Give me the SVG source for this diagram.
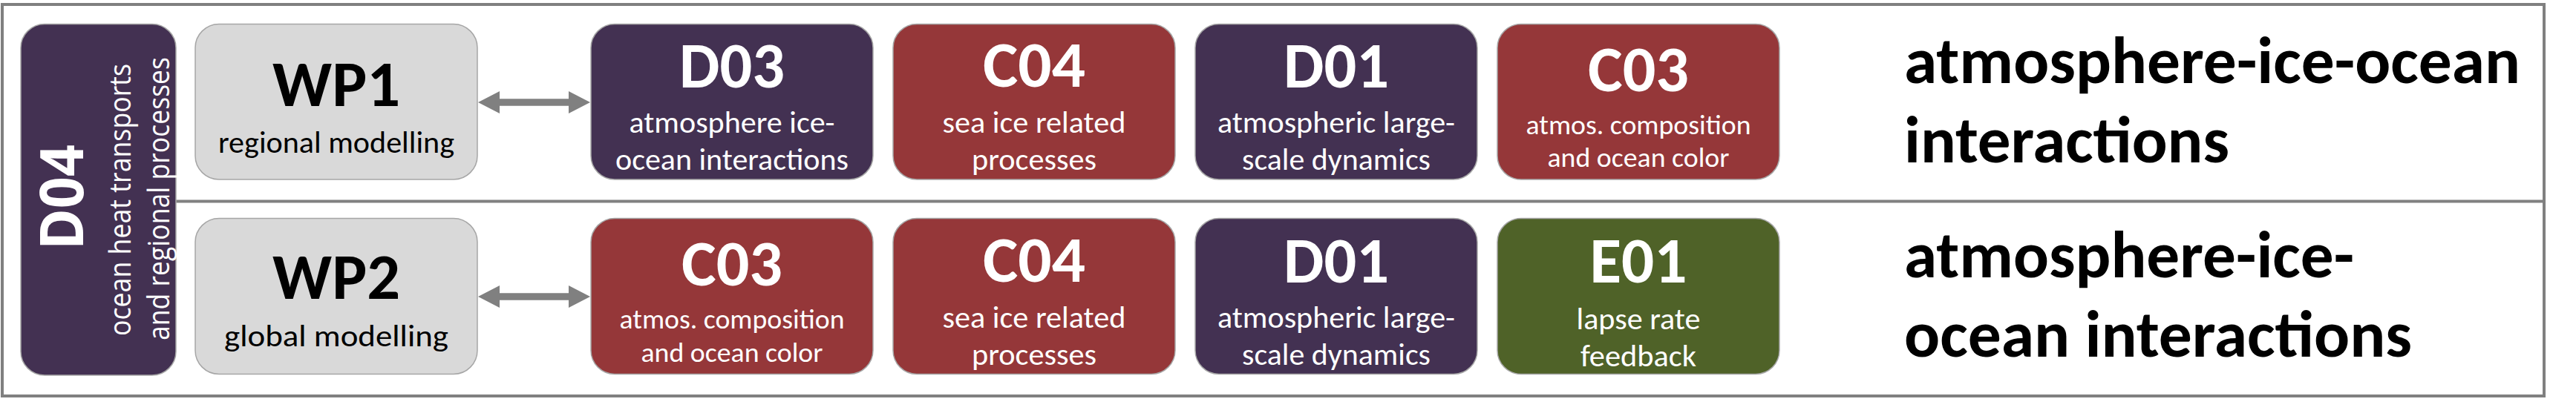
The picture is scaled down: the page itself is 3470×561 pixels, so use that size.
<svg xmlns="http://www.w3.org/2000/svg" width="3470" height="561" viewBox="0 0 3470 561">
<defs>
<style>
.frame{fill:none;stroke:#808080;stroke-width:4}
.sep{stroke:#808080;stroke-width:4}
.box{stroke:#a6a6a6;stroke-width:1.5}
.pur{fill:#433152}
.red{fill:#953739}
.grn{fill:#4f6228}
.gry{fill:#d9d9d9}
.arr{fill:#808080}
text{font-family:Carlito,Calibri,"Open Sans","Liberation Sans",sans-serif;text-anchor:middle}
.t{font-size:88px;font-weight:bold;fill:#ffffff}
.s{font-size:41px;fill:#ffffff}
.s2{font-size:37px;fill:#ffffff}
.wt{font-size:88px;font-weight:bold;fill:#000000}
.ws{font-size:41px;fill:#000000}
.big{font-size:90px;font-weight:bold;fill:#000000;text-anchor:start}
.vt{font-family:"Open Sans","Noto Sans","DejaVu Sans",sans-serif;fill:#ffffff}
</style>
</defs>
<rect x="0" y="0" width="3470" height="561" fill="#ffffff"/>
<rect class="frame" x="3" y="6" width="3424" height="528"/>
<line class="sep" x1="237" y1="271.5" x2="3427" y2="271.5"/>

<g id="D04">
<rect class="box pur" x="28" y="32.5" width="209" height="473.5" rx="32"/>
<text class="vt" transform="translate(112,266) rotate(-90)" font-size="80" font-weight="bold" textLength="142" lengthAdjust="spacingAndGlyphs">D04</text>
<text class="vt" transform="translate(176,269.5) rotate(-90)" font-size="40" textLength="367" lengthAdjust="spacingAndGlyphs">ocean heat transports</text>
<text class="vt" transform="translate(228,268) rotate(-90)" font-size="40" textLength="382" lengthAdjust="spacingAndGlyphs">and regional processes</text>
</g>

<g id="WP1">
<rect class="box gry" x="263" y="32.5" width="380" height="209.5" rx="32"/>
<text class="wt" x="453" y="143" textLength="172" lengthAdjust="spacingAndGlyphs">WP1</text>
<text class="ws" x="453" y="206" textLength="318" lengthAdjust="spacingAndGlyphs">regional modelling</text>
</g>
<g id="WP2">
<rect class="box gry" x="263" y="294.5" width="380" height="210" rx="32"/>
<text class="wt" x="453" y="403" textLength="172" lengthAdjust="spacingAndGlyphs">WP2</text>
<text class="ws" x="453" y="467" textLength="302" lengthAdjust="spacingAndGlyphs">global modelling</text>
</g>

<g id="D03-row1">
<rect class="box pur" x="796" y="32.5" width="380" height="209.5" rx="32"/>
<text class="t" x="986" y="118" textLength="142" lengthAdjust="spacingAndGlyphs">D03</text>
<text class="s" x="986" y="179" textLength="277" lengthAdjust="spacingAndGlyphs">atmosphere ice-</text>
<text class="s" x="986" y="229" textLength="314" lengthAdjust="spacingAndGlyphs">ocean interactions</text>
</g>
<g id="C04-row1">
<rect class="box red" x="1203" y="32.5" width="380" height="209.5" rx="32"/>
<text class="t" x="1393" y="117" textLength="138" lengthAdjust="spacingAndGlyphs">C04</text>
<text class="s" x="1393" y="179" textLength="247" lengthAdjust="spacingAndGlyphs">sea ice related</text>
<text class="s" x="1393" y="229" textLength="168" lengthAdjust="spacingAndGlyphs">processes</text>
</g>
<g id="D01-row1">
<rect class="box pur" x="1610" y="32.5" width="380" height="209.5" rx="32"/>
<text class="t" x="1800" y="118" textLength="142" lengthAdjust="spacingAndGlyphs">D01</text>
<text class="s" x="1800" y="179" textLength="320" lengthAdjust="spacingAndGlyphs">atmospheric large-</text>
<text class="s" x="1800" y="229" textLength="254" lengthAdjust="spacingAndGlyphs">scale dynamics</text>
</g>
<g id="C03-row1">
<rect class="box red" x="2017" y="32.5" width="380" height="209.5" rx="32"/>
<text class="t" x="2207" y="123" textLength="136" lengthAdjust="spacingAndGlyphs">C03</text>
<text class="s2" x="2207" y="181" textLength="303" lengthAdjust="spacingAndGlyphs">atmos. composition</text>
<text class="s2" x="2207" y="225" textLength="245" lengthAdjust="spacingAndGlyphs">and ocean color</text>
</g>

<g id="C03-row2">
<rect class="box red" x="796" y="294.5" width="380" height="210" rx="32"/>
<text class="t" x="986" y="385" textLength="136" lengthAdjust="spacingAndGlyphs">C03</text>
<text class="s2" x="986" y="443" textLength="303" lengthAdjust="spacingAndGlyphs">atmos. composition</text>
<text class="s2" x="986" y="488" textLength="245" lengthAdjust="spacingAndGlyphs">and ocean color</text>
</g>
<g id="C04-row2">
<rect class="box red" x="1203" y="294.5" width="380" height="210" rx="32"/>
<text class="t" x="1393" y="380" textLength="138" lengthAdjust="spacingAndGlyphs">C04</text>
<text class="s" x="1393" y="442" textLength="247" lengthAdjust="spacingAndGlyphs">sea ice related</text>
<text class="s" x="1393" y="492" textLength="168" lengthAdjust="spacingAndGlyphs">processes</text>
</g>
<g id="D01-row2">
<rect class="box pur" x="1610" y="294.5" width="380" height="210" rx="32"/>
<text class="t" x="1800" y="381" textLength="142" lengthAdjust="spacingAndGlyphs">D01</text>
<text class="s" x="1800" y="442" textLength="320" lengthAdjust="spacingAndGlyphs">atmospheric large-</text>
<text class="s" x="1800" y="492" textLength="254" lengthAdjust="spacingAndGlyphs">scale dynamics</text>
</g>
<g id="E01-row2">
<rect class="box grn" x="2017" y="294.5" width="380" height="210" rx="32"/>
<text class="t" x="2207" y="381" textLength="131" lengthAdjust="spacingAndGlyphs">E01</text>
<text class="s" x="2207" y="444" textLength="167" lengthAdjust="spacingAndGlyphs">lapse rate</text>
<text class="s" x="2207" y="494" textLength="156" lengthAdjust="spacingAndGlyphs">feedback</text>
</g>

<g id="label-row1">
<text class="big" x="2565" y="112" textLength="830" lengthAdjust="spacingAndGlyphs">atmosphere-ice-ocean</text>
<text class="big" x="2565" y="219" textLength="438" lengthAdjust="spacingAndGlyphs">interactions</text>
</g>
<g id="label-row2">
<text class="big" x="2565" y="374" textLength="606" lengthAdjust="spacingAndGlyphs">atmosphere-ice-</text>
<text class="big" x="2565" y="481" textLength="684" lengthAdjust="spacingAndGlyphs">ocean interactions</text>
</g>

<g id="connectors">
<polygon class="arr" points="644,138 673,123 673,133.3 766,133.3 766,123 795,138 766,153 766,142.7 673,142.7 673,153"/>
<polygon class="arr" points="644,400 673,385 673,395.3 766,395.3 766,385 795,400 766,415 766,404.7 673,404.7 673,415"/>
</g>
</svg>
